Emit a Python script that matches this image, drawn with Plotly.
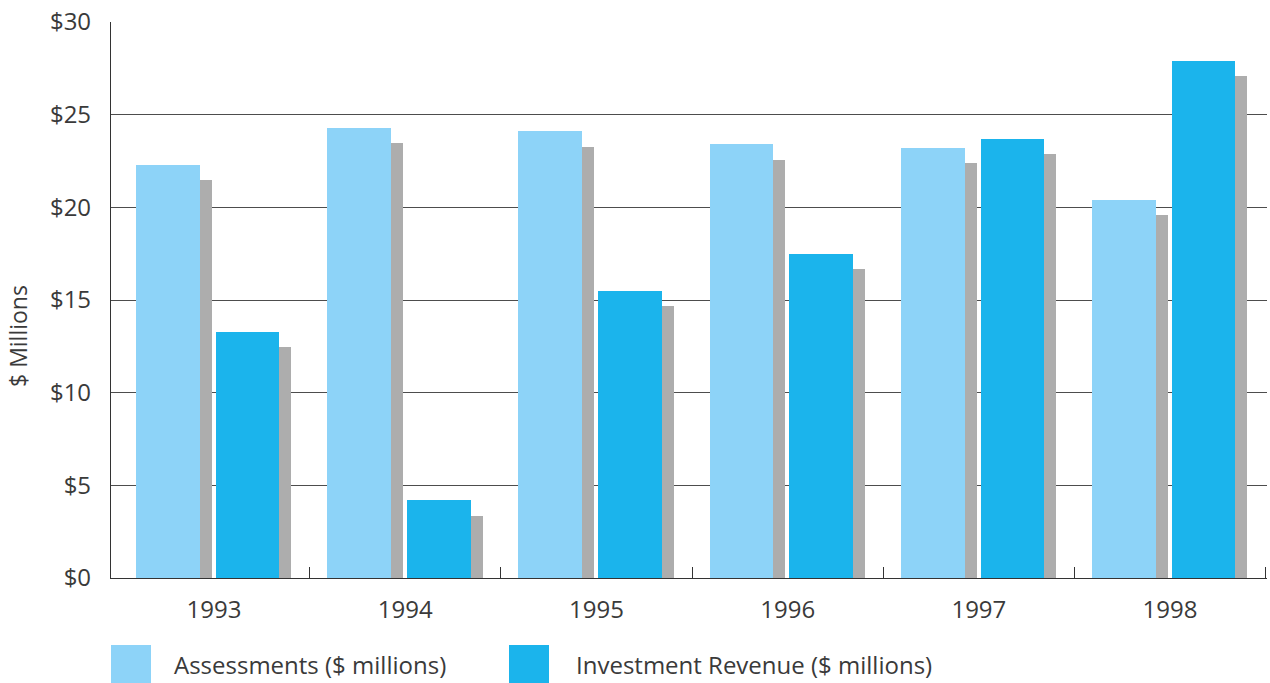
import plotly.graph_objects as go

# Annual revenue sources, $ millions
years = [1993, 1994, 1995, 1996, 1997, 1998]
assessments = [22.3, 24.3, 24.1, 23.4, 23.2, 20.4]
investment_revenue = [13.3, 4.2, 15.5, 17.5, 23.7, 27.9]

series_names = ["Assessments ($ millions)", "Investment Revenue ($ millions)"]
y_ticks = [0, 5, 10, 15, 20, 25, 30]
y_tick_labels = ["$0", "$5", "$10", "$15", "$20", "$25", "$30"]

LIGHT_BLUE = "#8dd3f8"
DEEP_BLUE = "#1bb4ec"
SHADOW = "#adadad"
TEXT = "#3a3a3a"
GRID = "#4d4d4d"
FONT = "Open Sans"
FS = 24

W, H = 1270, 683
M_L, M_R, M_T, M_B = 111, 3, 22, 105
PLOT_W = W - M_L - M_R
PLOT_H = H - M_T - M_B

BAR_W = 0.333          # bar width in year units
A_OFFSET = -0.408      # left edge of the assessments bar relative to the year
I_OFFSET = 0.009       # left edge of the investment bar relative to the year
SHADOW_SHIFT = 0.063   # drop shadow offset to the right (year units)
SHADOW_DROP = 0.83     # drop shadow offset downward ($ millions)

fig = go.Figure()

# drop shadows first so the bars sit on top of them
for vals, off in ((assessments, A_OFFSET), (investment_revenue, I_OFFSET)):
    fig.add_trace(go.Bar(
        x=years, y=[v - SHADOW_DROP for v in vals],
        width=BAR_W, offset=off + SHADOW_SHIFT,
        marker=dict(color=SHADOW, line=dict(width=0)),
        showlegend=False, hoverinfo="skip",
    ))

fig.add_trace(go.Bar(
    x=years, y=assessments, name=series_names[0],
    width=BAR_W, offset=A_OFFSET,
    marker=dict(color=LIGHT_BLUE, line=dict(width=0)),
))
fig.add_trace(go.Bar(
    x=years, y=investment_revenue, name=series_names[1],
    width=BAR_W, offset=I_OFFSET,
    marker=dict(color=DEEP_BLUE, line=dict(width=0)),
))

x_lo = years[0] - 0.539
x_hi = x_lo + PLOT_W / 191.2

fig.update_layout(
    width=W, height=H,
    margin=dict(l=M_L, r=M_R, t=M_T, b=M_B),
    paper_bgcolor="white", plot_bgcolor="white",
    barmode="overlay", bargap=0,
    showlegend=False,
    font=dict(family=FONT, color=TEXT, size=FS),
    xaxis=dict(
        range=[x_lo, x_hi],
        tickmode="array", tickvals=years, ticktext=[str(y) for y in years],
        ticks="", showgrid=False, zeroline=False,
        showline=True, linecolor="#333333", linewidth=1.2,
        tickfont=dict(size=FS, color=TEXT),
        ticklabelstandoff=10,
        minor=dict(tickmode="array", tickvals=[y + 0.5 for y in years],
                   ticks="inside", ticklen=11, tickwidth=1.2, tickcolor="#333333",
                   showgrid=False),
    ),
    yaxis=dict(
        range=[0, 30],
        tickmode="array", tickvals=y_ticks, ticktext=y_tick_labels,
        ticks="", showgrid=True, gridcolor=GRID, gridwidth=1,
        zeroline=False, showline=True, linecolor="#333333", linewidth=1.2,
        tickfont=dict(size=FS, color=TEXT),
        ticklabelstandoff=14,
    ),
)


def px_x(px):
    return (px - M_L) / PLOT_W


def px_y(py):
    return (H - M_B - py) / PLOT_H


# y-axis caption
fig.add_annotation(
    text="$ Millions", textangle=-90, showarrow=False,
    xref="paper", yref="paper", x=px_x(18), y=px_y(336),
    xanchor="center", yanchor="middle",
    font=dict(size=FS - 1, color=TEXT, family=FONT),
)

# legend drawn with large square swatches
legend_items = [
    (series_names[0], LIGHT_BLUE, 111, 172),
    (series_names[1], DEEP_BLUE, 509, 574),
]
for name, color, sx, tx in legend_items:
    fig.add_shape(
        type="rect", xref="paper", yref="paper",
        x0=px_x(sx), x1=px_x(sx + 40), y0=px_y(645), y1=px_y(685),
        fillcolor=color, line=dict(width=0),
    )
    fig.add_annotation(
        text=name, showarrow=False, xref="paper", yref="paper",
        x=px_x(tx), y=px_y(664), xanchor="left", yanchor="middle",
        font=dict(size=FS, color=TEXT, family=FONT),
    )

fig.write_html("out.html")
